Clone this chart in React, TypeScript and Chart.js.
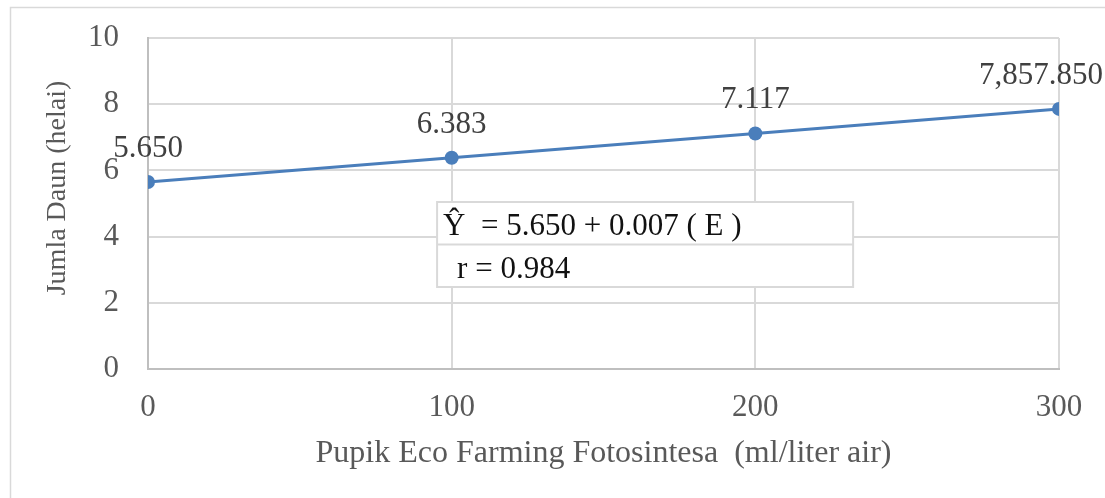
import { useEffect, useRef } from "react";
import { Chart, registerables } from "chart.js";

Chart.register(...registerables);

// Dose of fertilizer (ml/liter of water) and mean leaf count
const doses = [0, 100, 200, 300];
const leafCounts = [5.65, 6.383, 7.117, 7.85785];
const pointLabels = ["5.650", "6.383", "7.117", "7,857.850"];

const xTickValues = [0, 100, 200, 300];
const yTickValues = [0, 2, 4, 6, 8, 10];

const xTitle = "Pupik Eco Farming Fotosintesa  (ml/liter air)";
const yTitle = "Jumla Daun (helai)";

// Regression summary shown in the boxed note
const equationLines = ["\u0176  = 5.650 + 0.007 ( E )", "r = 0.984"];

const SERIF = "'Liberation Serif', 'Times New Roman', serif";
const LINE_BLUE = "#4a7ebb";
const GRID = "#d9d9d9";

const decorPlugin = {
  id: "decor",
  beforeDraw(chart: any) {
    const { ctx } = chart;
    ctx.save();
    ctx.fillStyle = "#ffffff";
    ctx.fillRect(0, 0, chart.width, chart.height);
    ctx.restore();
  },
  afterDatasetsDraw(chart: any) {
    const { ctx, chartArea } = chart;
    const xs = chart.scales.x;
    const ys = chart.scales.y;
    ctx.save();

    // outer frame of the chart object
    ctx.strokeStyle = GRID;
    ctx.lineWidth = 1.5;
    ctx.beginPath();
    ctx.moveTo(10.5, chart.height);
    ctx.lineTo(10.5, 7.5);
    ctx.lineTo(chart.width, 7.5);
    ctx.stroke();

    // axis titles
    ctx.fillStyle = "#595959";
    ctx.font = `32px ${SERIF}`;
    ctx.textAlign = "center";
    ctx.textBaseline = "alphabetic";
    ctx.fillText(xTitle, (chartArea.left + chartArea.right) / 2, 462);

    ctx.save();
    ctx.font = `28px ${SERIF}`;
    ctx.translate(65, 188);
    ctx.rotate(-Math.PI / 2);
    ctx.fillText(yTitle, 0, 0);
    ctx.restore();

    // value labels above each point
    const meta = chart.getDatasetMeta(0);
    ctx.font = `31px ${SERIF}`;
    ctx.fillStyle = "#404040";
    meta.data.forEach((pt: any, i: number) => {
      const text = pointLabels[i];
      const w = ctx.measureText(text).width;
      const cx = Math.min(pt.x, chart.width - 2 - w / 2);
      ctx.fillText(text, cx, pt.y - 25);
    });

    // regression note box
    const left = xs.getPixelForValue(95.2);
    const right = xs.getPixelForValue(232.2);
    const top = ys.getPixelForValue(5.045);
    const bottom = ys.getPixelForValue(2.477);
    const mid = (top + bottom) / 2;
    ctx.fillStyle = "#ffffff";
    ctx.fillRect(left, top, right - left, bottom - top);
    ctx.strokeStyle = GRID;
    ctx.lineWidth = 2;
    ctx.strokeRect(left, top, right - left, bottom - top);
    ctx.beginPath();
    ctx.moveTo(left, mid);
    ctx.lineTo(right, mid);
    ctx.stroke();

    ctx.fillStyle = "#111111";
    ctx.textAlign = "left";
    ctx.font = `31px ${SERIF}`;
    ctx.fillText(equationLines[0], left + 6, top + 33);
    ctx.fillText(equationLines[1], left + 20, mid + 33);

    ctx.restore();
  },
};

export default function App() {
  const canvasRef = useRef<HTMLCanvasElement | null>(null);

  useEffect(() => {
    const canvas = canvasRef.current;
    if (!canvas) return;
    const chart = new Chart(canvas, {
      type: "line",
      data: {
        datasets: [
          {
            data: doses.map((d, i) => ({ x: d, y: leafCounts[i] })),
            borderColor: LINE_BLUE,
            backgroundColor: LINE_BLUE,
            pointBackgroundColor: LINE_BLUE,
            pointBorderColor: LINE_BLUE,
            pointBorderWidth: 0,
            borderWidth: 3,
            pointRadius: 7,
            tension: 0,
            fill: false,
          },
        ],
      },
      options: {
        responsive: false,
        animation: false,
        devicePixelRatio: 1,
        layout: { padding: { left: 0, top: 38, right: 46, bottom: 0 } },
        plugins: {
          legend: { display: false },
          tooltip: { enabled: false },
        },
        scales: {
          x: {
            type: "linear",
            min: 0,
            max: 300,
            afterBuildTicks: (s: any) => {
              s.ticks = xTickValues.map((v) => ({ value: v }));
            },
            afterFit: (s: any) => {
              s.height = 129;
              s.paddingLeft = 0;
              s.paddingRight = 0;
            },
            grid: { color: GRID, lineWidth: 2, drawTicks: false },
            border: { color: "#bfbfbf", width: 2 },
            ticks: {
              padding: 20,
              color: "#595959",
              maxRotation: 0,
              font: { family: SERIF, size: 31 },
            },
          },
          y: {
            type: "linear",
            min: 0,
            max: 10,
            afterBuildTicks: (s: any) => {
              s.ticks = yTickValues.map((v) => ({ value: v }));
            },
            afterFit: (s: any) => {
              s.width = 148;
              s.paddingTop = 0;
              s.paddingBottom = 0;
            },
            grid: { color: GRID, lineWidth: 2, drawTicks: false },
            border: { color: "#bfbfbf", width: 2 },
            ticks: {
              padding: 29,
              color: "#595959",
              font: { family: SERIF, size: 31 },
            },
          },
        },
      },
      plugins: [decorPlugin],
    } as any);
    return () => chart.destroy();
  }, []);

  return (
    <div
      style={{
        position: "absolute",
        left: 0,
        top: 0,
        width: 1105,
        height: 498,
        background: "#ffffff",
      }}
    >
      <canvas
        ref={canvasRef}
        width={1105}
        height={498}
        style={{ display: "block", width: 1105, height: 498 }}
      />
    </div>
  );
}
